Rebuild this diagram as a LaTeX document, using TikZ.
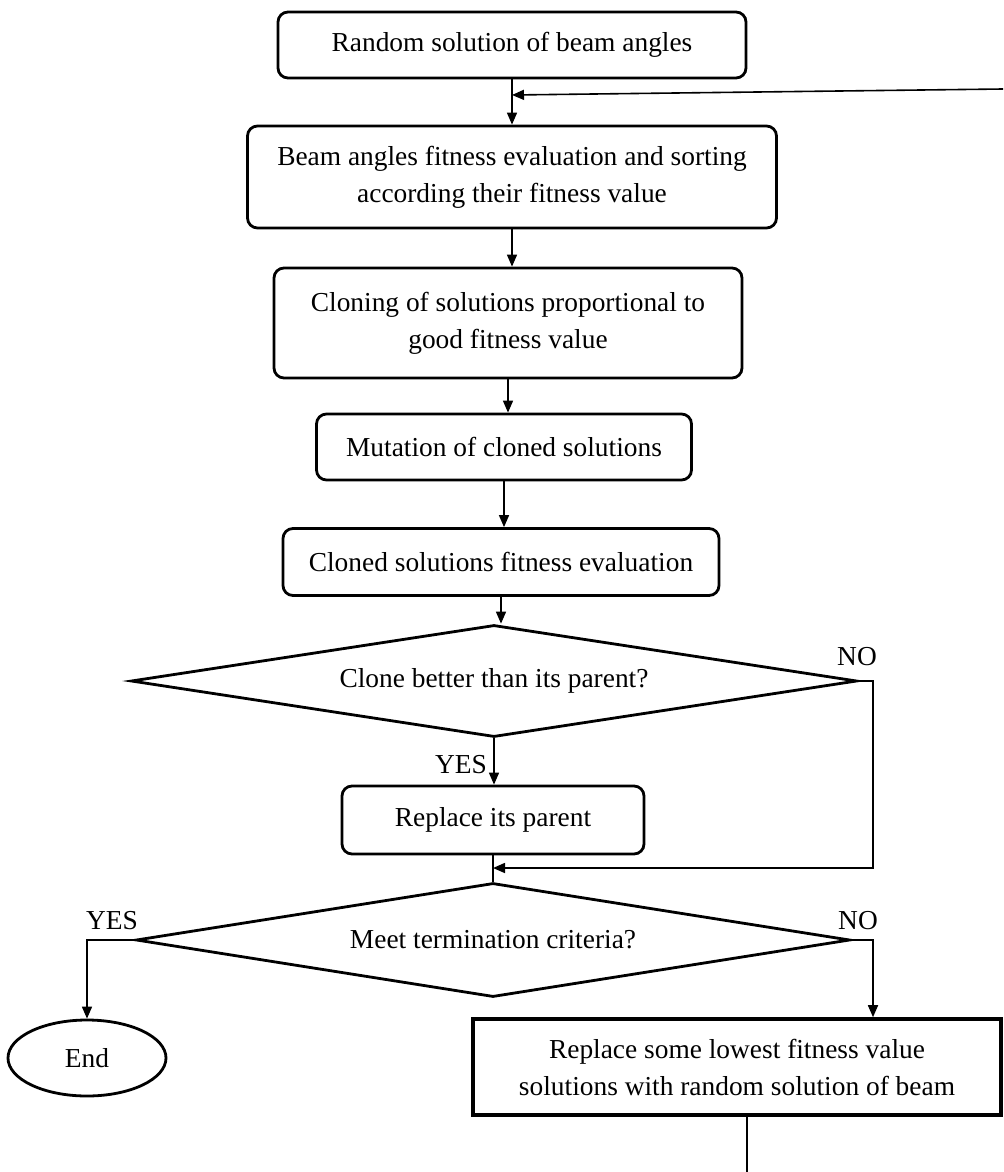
\documentclass[tikz,border=0pt]{standalone}
\usepackage{fontspec}
\setmainfont{Liberation Serif}
\usepackage{tikz}
\usetikzlibrary{shapes.geometric, arrows, arrows.meta}
\tikzstyle{arrow} = [line width=0.8pt,->,>={Triangle[length=6pt,width=5pt]}]
\tikzstyle{line} = [line width=0.8pt]
\tikzstyle{stepbox} = [rectangle, rounded corners=5pt, draw, line width=1.4pt, align=center, inner sep=0pt]
\tikzstyle{decision} = [diamond, draw, line width=1.4pt, aspect=6.5, inner sep=0pt, align=center]
\tikzstyle{lbl} = [inner sep=0pt]

\begin{document}
\begin{tikzpicture}[x=0.5pt,y=-0.5pt,font=\fontsize{13.7}{18.5}\selectfont]
	
	% Page:
	\useasboundingbox (0,0) rectangle (1003,1172);
	\fill [white] (0,0) rectangle (1003,1172);
	
	% Steps:
	\node (b1) [stepbox, minimum width=234pt, minimum height=33pt] at (512,45) {Random solution of beam angles};
	\node (b2) [stepbox, minimum width=264.5pt, minimum height=51pt] at (512,177) {Beam angles fitness evaluation and sorting\\according their fitness value};
	\node (b3) [stepbox, minimum width=234pt, minimum height=55pt] at (508,323) {Cloning of solutions proportional to\\good fitness value};
	\node (b4) [stepbox, minimum width=187.5pt, minimum height=33pt] at (504,447) {Mutation of cloned solutions};
	\node (b5) [stepbox, minimum width=218pt, minimum height=33.5pt] at (501,562) {Cloned solutions fitness evaluation};
	\node (d1) [decision, minimum width=363pt, minimum height=56pt] at (494,681) {Clone better than its parent?};
	\node (b6) [stepbox, minimum width=151pt, minimum height=34pt] at (493,820) {Replace its parent};
	\node (d2) [decision, minimum width=357pt, minimum height=57pt] at (493,940) {Meet termination criteria?};
	\node (e) [ellipse, draw, line width=1.4pt, minimum width=79pt, minimum height=38pt, inner sep=0pt] at (87,1058) {End};
	\node (b7) [rectangle, draw, line width=1.8pt, align=center, inner sep=0pt, minimum width=264pt, minimum height=48pt] at (737,1067) {Replace some lowest fitness value\\solutions with random solution of beam};
	
	% Labels:
	\node (yes1) [lbl] at (461,765) {YES};
	\node (no1) [lbl] at (857,657) {NO};
	\node (yes2) [lbl] at (112,921) {YES};
	\node (no2) [lbl] at (858,921) {NO};
	
	% Points on the lines:
	\coordinate (fb) at (1003,89);
	\coordinate (m1) at (512,95);
	\coordinate (m2) at (493,868);
	\coordinate (r1) at (873,681);
	\coordinate (r2) at (873,940);
	
	% Connectors:
	\draw [line] (b1.south) -- (m1);
	\draw [arrow] (m1) -- (b1.south |- b2.north);
	\draw [arrow] (fb) -- (m1);
	\draw [arrow] (b2.south) -- (b2.south |- b3.north);
	\draw [arrow] (b3.south) -- (b3.south |- b4.north);
	\draw [arrow] (b4.south) -- (b4.south |- b5.north);
	\draw [arrow] (b5.south) -- (b5.south |- d1.north);
	\draw [arrow] (d1.south) -- (d1.south |- b6.north);
	\draw [line] (b6.south) -- (d2.north);
	\draw [arrow] (d1.east) -- (r1) |- (m2);
	\draw [arrow] (d2.west) -| (e.north);
	\draw [arrow] (d2.east) -| (b7.north -| r2);
	\draw [line] ([xshift=5pt]b7.south) -- ++(0,60);
	
\end{tikzpicture}
\end{document}
